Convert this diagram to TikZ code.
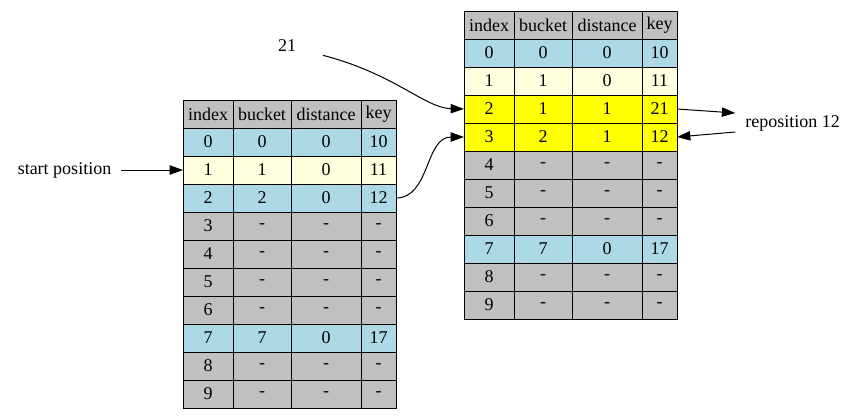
\documentclass[tikz,border=0pt]{standalone}
\usepackage{fontspec}
\setmainfont{Liberation Serif}
\usepackage{xcolor}
\usepackage{tikz}
\usetikzlibrary{arrows.meta}

\definecolor{cellblue}{RGB}{173,216,230}
\definecolor{cellpale}{RGB}{255,255,224}
\definecolor{cellgray}{RGB}{192,192,192}
\definecolor{cellyellow}{RGB}{255,255,0}

\tikzset{
  cell/.style={draw, line width=0.75pt, inner sep=0pt, outer sep=0pt,
    minimum height=21pt, anchor=north west, font=\rmfamily\fontsize{13.5}{15}\selectfont},
  tag/.style={inner xsep=7.5pt, outer sep=0pt, minimum width=54pt,
    minimum height=36pt, font=\rmfamily\fontsize{13.5}{15}\selectfont},
  link/.style={-{Triangle[length=10pt,width=7pt]}, line width=0.75pt},
}

% one hash table: name, left x, top y (px), rows
\newcommand{\hashtable}[4]{%
  \foreach \r/\i/\b/\d/\k/\col [count=\n from 0] in {#4}{
    \foreach \c/\cx/\cw/\txt in {0/0/50/\i, 1/50/58/\b, 2/108/70/\d, 3/178/35/\k}
      \node[cell, fill=\col, minimum width=\cw*0.75pt] (#1-\r-\c) at ({#2+\cx},{#3+28*\n}) {\txt};
  }}

\begin{document}
\begin{tikzpicture}[x=0.75pt, y=-0.75pt]
    \useasboundingbox (0,0) rectangle (859,419);

    % table before insertion
    \hashtable{L}{183}{100}{h/index/bucket/distance/key/cellgray,
      0/0/0/0/10/cellblue, 1/1/1/0/11/cellpale, 2/2/2/0/12/cellblue,
      3/3/-/-/-/cellgray, 4/4/-/-/-/cellgray, 5/5/-/-/-/cellgray,
      6/6/-/-/-/cellgray, 7/7/7/0/17/cellblue, 8/8/-/-/-/cellgray,
      9/9/-/-/-/cellgray}

    % table after insertion
    \hashtable{R}{464}{11}{h/index/bucket/distance/key/cellgray,
      0/0/0/0/10/cellblue, 1/1/1/0/11/cellpale, 2/2/1/1/21/cellyellow,
      3/3/2/1/12/cellyellow, 4/4/-/-/-/cellgray, 5/5/-/-/-/cellgray,
      6/6/-/-/-/cellgray, 7/7/7/0/17/cellblue, 8/8/-/-/-/cellgray,
      9/9/-/-/-/cellgray}

    \node[tag] (start) at (64.5,170) {start position};
    \node[tag] (new) at (287,46) {21};
    \node[tag] (repos) at (792.5,123) {reposition 12};

    \draw[link] (start) -- (L-1-0.west);
    \draw[link] (new) .. controls (395,74) and (425,108) .. (R-2-0.west);
    \draw[link] (L-2-3.east) .. controls (430,198) and (425,137) .. (R-3-0.west);
    \draw[link] (R-2-3.east) -- ([yshift=7.5pt]repos.west);
    \draw[link] ([yshift=-6.75pt]repos.west) -- (R-3-3.east);
\end{tikzpicture}
\end{document}
